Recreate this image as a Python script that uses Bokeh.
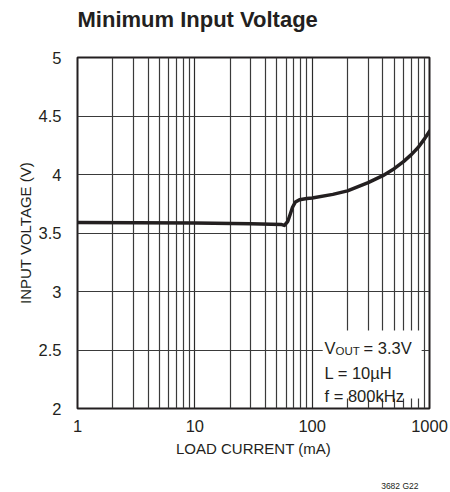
from bokeh.plotting import figure
from bokeh.models import (FixedTicker, NumeralTickFormatter, BoxAnnotation, Label, Range1d, Title)
from bokeh.embed import file_html
from bokeh.resources import INLINE

# ---- data ----
load_current_ma = [1, 10, 30, 55, 58, 62, 65, 68, 72, 78, 90, 100, 150, 200, 300, 400, 500, 600, 700, 800, 900, 1000]
min_input_v = [3.59, 3.585, 3.58, 3.572, 3.565, 3.60, 3.66, 3.72, 3.765, 3.785, 3.795, 3.80, 3.83, 3.86, 3.93, 3.99, 4.05, 4.11, 4.17, 4.23, 4.30, 4.37]

x_major_ticks = [1, 10, 100, 1000]
x_minor_ticks = [2, 3, 4, 5, 6, 7, 8, 9, 20, 30, 40, 50, 60, 70, 80, 90, 200, 300, 400, 500, 600, 700, 800, 900]
y_ticks = [2, 2.5, 3, 3.5, 4, 4.5, 5]

FONT = "Liberation Sans"
INK = "#231f20"

p = figure(width=450, height=492, x_axis_type="log",
           x_range=Range1d(1, 1000), y_range=Range1d(2, 5),
           min_border_left=77, min_border_right=21, min_border_top=57, min_border_bottom=84,
           output_backend="svg", toolbar_location=None, title="Minimum Input Voltage")

p.title.text_font = FONT
p.title.text_font_style = "bold"
p.title.text_font_size = "22px"
p.title.text_color = INK
p.title.align = "left"
p.title.offset = 0
p.title.standoff = 0

p.outline_line_color = INK
p.outline_line_width = 2
p.outline_line_alpha = 1
p.background_fill_color = "white"
p.border_fill_color = "white"

p.xaxis.ticker = FixedTicker(ticks=x_major_ticks, minor_ticks=x_minor_ticks)
p.yaxis.ticker = FixedTicker(ticks=y_ticks)
p.xaxis.formatter = NumeralTickFormatter(format="0")
p.yaxis.formatter = NumeralTickFormatter(format="0.[0]")

for ax in (p.xaxis, p.yaxis):
    ax.axis_line_color = None
    ax.major_tick_line_color = None
    ax.minor_tick_line_color = None
    ax.major_label_text_font = FONT
    ax.major_label_text_font_size = "16.5px"
    ax.major_label_text_color = INK
    ax.axis_label_text_font = FONT
    ax.axis_label_text_font_size = "15px"
    ax.axis_label_text_font_style = "normal"
    ax.axis_label_text_color = INK

p.xaxis.axis_label = "LOAD CURRENT (mA)"
p.yaxis.axis_label = "INPUT VOLTAGE (V)"
p.xaxis.major_label_standoff = 5
p.xaxis.axis_label_standoff = 5
p.yaxis.major_label_standoff = 10
p.yaxis.axis_label_standoff = 2


def spacer(size):
    # blank title used only to reserve vertical space in a side panel
    return Title(text=" ", text_font=FONT, text_font_size="1px", standoff=size)


p.add_layout(spacer(23), "above")
p.add_layout(spacer(16), "below")

p.xgrid.grid_line_color = "#2a2a2a"
p.xgrid.grid_line_width = 1.2
p.xgrid.minor_grid_line_color = "#3a3a3a"
p.xgrid.minor_grid_line_width = 1.2
p.ygrid.grid_line_color = "#3a3a3a"
p.ygrid.grid_line_width = 1.2

p.line(load_current_ma, min_input_v, line_color=INK, line_width=3.5, line_join="round", line_cap="round")

# annotation box (white, hides the grid behind the text)
p.add_layout(BoxAnnotation(left=123, right=857, bottom=2.085, top=2.667,
                           fill_color="white", fill_alpha=1, line_color=None, level="glyph"))

def lab(text, x, y, size="16.5px", x_off=0, y_off=0, align="left"):
    p.add_layout(Label(x=x, y=y, text=text, x_offset=x_off, y_offset=y_off,
                       text_font=FONT, text_font_size=size, text_color=INK,
                       text_align=align, text_baseline="alphabetic"))

lab("V", 127.5, 2.513)
lab("OUT", 127.5, 2.513, size="11.5px", x_off=11, y_off=-3)
lab("= 3.3V", 127.5, 2.513, x_off=39)
lab("L = 10\u00b5H", 127.5, 2.30)
lab("f = 800kHz", 127.5, 2.111)

p.add_layout(Title(text="3682 G22", align="right", offset=11, standoff=0,
                   text_font=FONT, text_font_size="8.5px", text_font_style="normal",
                   text_color=INK), "below")

open("out.html", "w").write(file_html(p, INLINE))
